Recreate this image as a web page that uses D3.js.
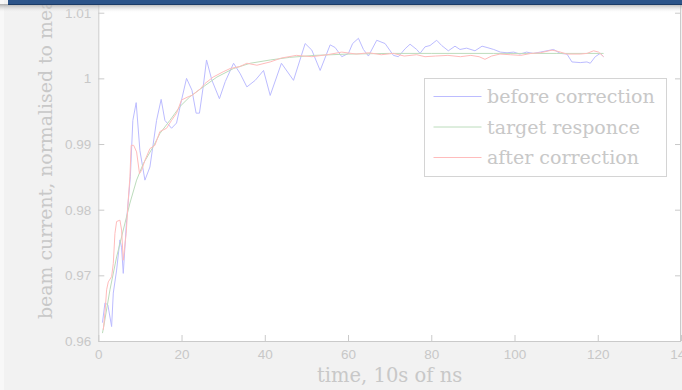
<!DOCTYPE html>
<html>
<head>
<meta charset="utf-8">
<script src="https://cdn.jsdelivr.net/npm/d3@7"></script>
<style>
  body { margin: 0; background: #f2f2f2; }
  svg { display: block; }
</style>
</head>
<body>
<div id="chart"></div>
<script>
// values, [time, normalised current]
const beforeCorrection = [
  [1, 0.9628], [1.6, 0.9658], [2.3, 0.9655], [3.2, 0.9622], [3.6, 0.9673], [4.4, 0.9708],
  [5.2, 0.9754], [5.6, 0.9742], [6, 0.9703], [6.8, 0.9784], [7.7, 0.985], [8.3, 0.9936],
  [9.1, 0.9963], [10, 0.989], [11.2, 0.9845], [12.4, 0.9865], [14, 0.9936], [15.1, 0.9968],
  [16, 0.9936], [17.6, 0.9924], [18.8, 0.9932], [20, 0.9967], [21.2, 1.0000], [22.5, 0.9982],
  [23.5, 0.9947], [24.3, 0.9947], [25.2, 0.9987], [26, 1.0028], [27.3, 0.9997], [29.1, 0.9969],
  [30.5, 0.9995], [32.5, 1.0023], [34.1, 1.0007], [35.7, 0.9987], [37.7, 0.9997], [39.7, 1.0012],
  [41.3, 0.9974], [44, 1.0023], [46.9, 0.9997], [49.7, 1.0053], [51.3, 1.0043], [53.3, 1.0012],
  [55.7, 1.0051], [56.9, 1.0047], [58.5, 1.0033], [60.1, 1.0038], [61.1, 1.0053], [62.5, 1.0061],
  [63.7, 1.0044], [64.9, 1.0034], [66.9, 1.0058], [68.9, 1.0053], [70.9, 1.0035], [72.1, 1.0033],
  [73.7, 1.0045], [74.9, 1.0052], [76.5, 1.0044], [77.3, 1.0038], [78.5, 1.0048], [79.7, 1.005],
  [81.3, 1.0058], [82.5, 1.005], [84.1, 1.0042], [85.7, 1.0049], [86.9, 1.0044], [88.5, 1.0046],
  [90.5, 1.0042], [92.2, 1.0049], [93.4, 1.0047], [95, 1.0044], [96.6, 1.004], [98.2, 1.0039],
  [99.8, 1.004], [101.3, 1.0037], [102.9, 1.004], [104.5, 1.0038], [106.2, 1.004], [107.8, 1.0042],
  [109.4, 1.0044], [111, 1.0038], [112.6, 1.0037], [113.8, 1.0025], [115.8, 1.0024], [117.4, 1.0025],
  [118.2, 1.0023], [119.4, 1.0033], [120.6, 1.0038], [121.4, 1.0033]
];

const targetResponse = [
  [1, 0.9612], [1.3, 0.9622], [2.8, 0.9678], [4.4, 0.9728], [6, 0.9769], [7.6, 0.981],
  [9.2, 0.9845], [10.8, 0.987], [13.2, 0.9896], [14.8, 0.9916], [17.2, 0.9936], [19.6, 0.9957],
  [22, 0.9972], [25.2, 0.9987], [28.5, 1.0002], [32.5, 1.0015], [36.5, 1.0023], [41.3, 1.0028],
  [46, 1.0032], [52, 1.0035], [60, 1.0037], [70, 1.0038], [80, 1.0038], [95, 1.0038],
  [110, 1.0038], [121.4, 1.0038]
];

const afterCorrection = [
  [1.2, 0.9617], [1.6, 0.9643], [2, 0.9678], [2.4, 0.969], [3.2, 0.9698], [3.6, 0.9718],
  [4, 0.9764], [4.4, 0.9782], [5.2, 0.9784], [5.6, 0.9769], [6, 0.9723], [6.7, 0.9764],
  [7.2, 0.9815], [7.6, 0.985], [7.9, 0.9898], [8.5, 0.9898], [9.2, 0.9888], [9.9, 0.9855],
  [10.4, 0.986], [11.2, 0.9875], [12.4, 0.9893], [13.6, 0.9898], [14.8, 0.9919], [16.4, 0.9924],
  [17.6, 0.9936], [18.8, 0.9947], [20, 0.9967], [21.6, 0.9972], [22.5, 0.9974], [24.5, 0.9984],
  [25.6, 0.9992], [27.6, 1.0002], [30, 1.001], [31.7, 1.0015], [34, 1.0018], [35.7, 1.0023],
  [38.1, 1.002], [41.3, 1.0025], [44, 1.0031], [47.6, 1.0035], [51.3, 1.0033], [55, 1.0036],
  [58.5, 1.004], [62, 1.0037], [65, 1.0039], [68, 1.0036], [70.9, 1.0038], [73.5, 1.0034],
  [76.5, 1.0036], [78.5, 1.0033], [81, 1.0034], [84, 1.0035], [87, 1.0033], [89.5, 1.0035],
  [91.5, 1.0033], [92.9, 1.0029], [94.5, 1.0034], [96.5, 1.0037], [99, 1.0036], [101.5, 1.0035],
  [104, 1.0038], [106.2, 1.0039], [109, 1.0043], [110.5, 1.0041], [112.6, 1.0037], [115.8, 1.0037],
  [117.4, 1.0038], [119, 1.0042], [120.2, 1.0040], [121.4, 1.0033]
];

const xTicks = [0, 20, 40, 60, 80, 100, 120, 140];
const yTicks = [0.96, 0.97, 0.98, 0.99, 1, 1.01];
const seriesNames = ["before correction", "target responce", "after correction"];
const seriesColors = ["#bcbcff", "#bcdcbc", "#ffbcbc"];

const width = 682, height = 390;
const margin = { top: 12.7, right: 1, bottom: 49, left: 98.3 };

const x = d3.scaleLinear()
  .domain([0, 140])
  .range([margin.left, width - margin.right]);

const y = d3.scaleLinear()
  .domain([0.96, 1.01])
  .range([height - margin.bottom, margin.top]);

const axisColor = "#cacaca";
const textColor = "#c8c8c8";
const serif = "'DejaVu Serif', serif";
const sans = "'Liberation Sans', Arial, sans-serif";

const svg = d3.select("#chart").append("svg")
  .attr("width", width)
  .attr("height", height);

// light strip on the far left
svg.append("rect").attr("x", 0).attr("y", 0).attr("width", 4).attr("height", height).attr("fill", "#f8f8f8");

// plot area (top goes past the visible window)
svg.append("rect")
  .attr("x", x(0)).attr("y", 0)
  .attr("width", x(140) - x(0)).attr("height", y(0.96))
  .attr("fill", "white");

const line = d3.line()
  .x(d => x(d[0]))
  .y(d => y(d[1]));

[beforeCorrection, targetResponse, afterCorrection].forEach((data, i) => {
  svg.append("path")
    .datum(data)
    .attr("fill", "none")
    .attr("stroke", seriesColors[i])
    .attr("stroke-width", 1)
    .attr("d", line);
});

// axes, ticks inside like matlab
const xAxis = g => g
  .attr("transform", `translate(0,${y(0.96)})`)
  .call(d3.axisBottom(x).tickValues(xTicks).tickSizeInner(-6).tickSizeOuter(0).tickPadding(8).tickFormat(d3.format("d")))
  .call(g => g.select(".domain").attr("stroke", axisColor).attr("d", `M${x(0)},0.5H${x(140)}`))
  .call(g => g.selectAll(".tick line").attr("stroke", axisColor))
  .call(g => g.selectAll(".tick text").attr("fill", textColor).attr("font-family", sans).attr("font-size", 13.5));

const yAxis = g => g
  .attr("transform", `translate(${x(0)},0)`)
  .call(d3.axisLeft(y).tickValues(yTicks).tickSizeInner(-6).tickSizeOuter(0).tickPadding(7).tickFormat(d => d === 1 ? "1" : d3.format(".2f")(d)))
  .call(g => g.select(".domain").attr("stroke", axisColor).attr("d", `M0.5,0V${y(0.96)}`))
  .call(g => g.selectAll(".tick line").attr("stroke", axisColor))
  .call(g => g.selectAll(".tick text").attr("fill", textColor).attr("font-family", sans).attr("font-size", 13.5));

const yAxisRight = g => g
  .attr("transform", `translate(${x(140)},0)`)
  .call(d3.axisRight(y).tickValues(yTicks).tickSizeInner(-6).tickSizeOuter(0).tickFormat(""))
  .call(g => g.select(".domain").attr("stroke", axisColor).attr("d", `M-0.5,0V${y(0.96)}`))
  .call(g => g.selectAll(".tick line").attr("stroke", axisColor));

svg.append("g").call(xAxis);
svg.append("g").call(yAxis);
svg.append("g").call(yAxisRight);

// axis titles
svg.append("text")
  .attr("x", (x(0) + x(140)) / 2)
  .attr("y", 382)
  .attr("text-anchor", "middle")
  .attr("font-family", serif)
  .attr("font-size", 19.5)
  .attr("fill", textColor)
  .text("time, 10s of ns");

svg.append("text")
  .attr("transform", "translate(52,319) rotate(-90)")
  .attr("text-anchor", "start")
  .attr("font-family", serif)
  .attr("font-size", 18.9)
  .attr("fill", textColor)
  .text("beam current, normalised to mean");

// legend
const legend = svg.append("g").attr("transform", "translate(424.5,78.5)");
legend.append("rect")
  .attr("width", 242).attr("height", 98)
  .attr("fill", "white").attr("stroke", "#d4d4d4");

legend.selectAll("g.item")
  .data(seriesNames)
  .join("g")
  .attr("class", "item")
  .attr("transform", (d, i) => `translate(0,${18 + i * 30.5})`)
  .call(g => g.append("line")
    .attr("x1", 9).attr("x2", 57)
    .attr("stroke", (d, i) => seriesColors[i]))
  .call(g => g.append("text")
    .attr("x", 62.5).attr("dy", "0.35em")
    .attr("font-family", serif).attr("font-size", 19)
    .attr("fill", textColor)
    .text(d => d));

// window title bar at the top, with its shadow
const defs = svg.append("defs");
const grad = defs.append("linearGradient").attr("id", "shade").attr("x1", 0).attr("x2", 0).attr("y1", 0).attr("y2", 1);
grad.append("stop").attr("offset", 0).attr("stop-color", "#9a9a9a").attr("stop-opacity", 0.8);
grad.append("stop").attr("offset", 1).attr("stop-color", "#ffffff").attr("stop-opacity", 0);
svg.append("rect").attr("x", 0).attr("y", 4).attr("width", width).attr("height", 9).attr("fill", "url(#shade)");
svg.append("rect").attr("x", 8).attr("y", 0).attr("width", width - 8).attr("height", 5).attr("fill", "#2c5489");
svg.append("rect").attr("x", 8).attr("y", 4).attr("width", width - 8).attr("height", 1).attr("fill", "#1b3b66");
</script>
</body>
</html>
